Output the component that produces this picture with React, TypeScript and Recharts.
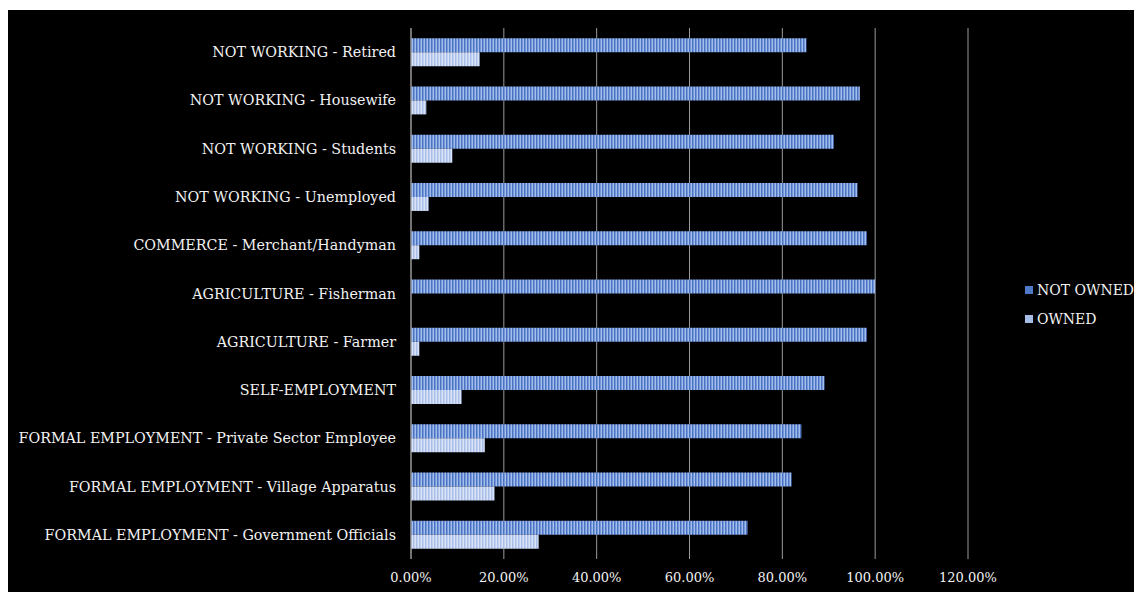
import React from "react";
import { BarChart, Bar, XAxis, YAxis, CartesianGrid, Legend } from "recharts";

const categories = [
  "NOT WORKING - Retired",
  "NOT WORKING - Housewife",
  "NOT WORKING - Students",
  "NOT WORKING - Unemployed",
  "COMMERCE - Merchant/Handyman",
  "AGRICULTURE - Fisherman",
  "AGRICULTURE - Farmer",
  "SELF-EMPLOYMENT",
  "FORMAL EMPLOYMENT - Private Sector Employee",
  "FORMAL EMPLOYMENT - Village Apparatus",
  "FORMAL EMPLOYMENT - Government Officials",
];
const notOwned = [85.2, 96.7, 91.1, 96.2, 98.2, 100, 98.2, 89.1, 84.1, 82.0, 72.5];
const owned = [14.8, 3.3, 8.9, 3.8, 1.8, 0, 1.8, 10.9, 15.9, 18.0, 27.5];
const xTicks = [0, 20, 40, 60, 80, 100, 120];
const seriesNames = ["NOT OWNED", "OWNED"];

const data = categories.map((c, i) => ({ name: c, notOwned: notOwned[i], owned: owned[i] }));

const FONT = "'DejaVu Serif', serif";

const LegendContent = () => (
  <div style={{ fontFamily: FONT, fontSize: 14, color: "#f2f2f2", whiteSpace: "nowrap" }}>
    {seriesNames.map((n, i) => (
      <div key={n} style={{ display: "flex", alignItems: "center", height: 29 }}>
        <span
          style={{
            display: "inline-block",
            width: 8,
            height: 8,
            background: i === 0 ? "#4f78c6" : "#a7bde8",
            marginRight: 4,
          }}
        />
        <span>{n}</span>
      </div>
    ))}
  </div>
);

export default function App() {
  return (
    <div style={{ marginTop: 2, width: 1134, height: 582, background: "#000" }}>
      <BarChart
        width={1134}
        height={582}
        data={data}
        layout="vertical"
        margin={{ top: 18, right: 49, bottom: 3, left: 0 }}
        barCategoryGap="21%"
        barGap={0}
      >
        <defs>
          <pattern id="pNot" width="3" height="4" patternUnits="userSpaceOnUse">
            <rect x="0" y="0" width="3" height="4" fill="#a3bdec" />
            <rect x="0" y="0" width="1.5" height="4" fill="#4a73c2" />
          </pattern>
          <pattern id="pOwn" width="3" height="4" patternUnits="userSpaceOnUse">
            <rect x="0" y="0" width="3" height="4" fill="#dbe4f7" />
            <rect x="0" y="0" width="1.5" height="4" fill="#a9bfe9" />
          </pattern>
        </defs>
        <CartesianGrid horizontal={false} stroke="#9a9a9a" strokeWidth={1} />
        <XAxis
          type="number"
          domain={[0, 120]}
          ticks={xTicks}
          height={30}
          tickFormatter={(v: number) => v.toFixed(2) + "%"}
          axisLine={false}
          tickLine={false}
          tickMargin={8}
          tick={{ fill: "#f2f2f2", fontSize: 13, fontFamily: FONT }}
        />
        <YAxis
          type="category"
          dataKey="name"
          width={403}
          axisLine={{ stroke: "#9a9a9a" }}
          tickLine={false}
          tickMargin={9}
          interval={0}
          tick={{ fill: "#f2f2f2", fontSize: 14.3, fontFamily: FONT }}
        />
        <Legend
          layout="vertical"
          align="right"
          verticalAlign="middle"
          content={<LegendContent />}
          wrapperStyle={{ left: 1017, top: 265, width: 125 }}
        />
        <Bar dataKey="notOwned" name="NOT OWNED" fill="url(#pNot)" isAnimationActive={false} />
        <Bar dataKey="owned" name="OWNED" fill="url(#pOwn)" isAnimationActive={false} />
      </BarChart>
    </div>
  );
}
